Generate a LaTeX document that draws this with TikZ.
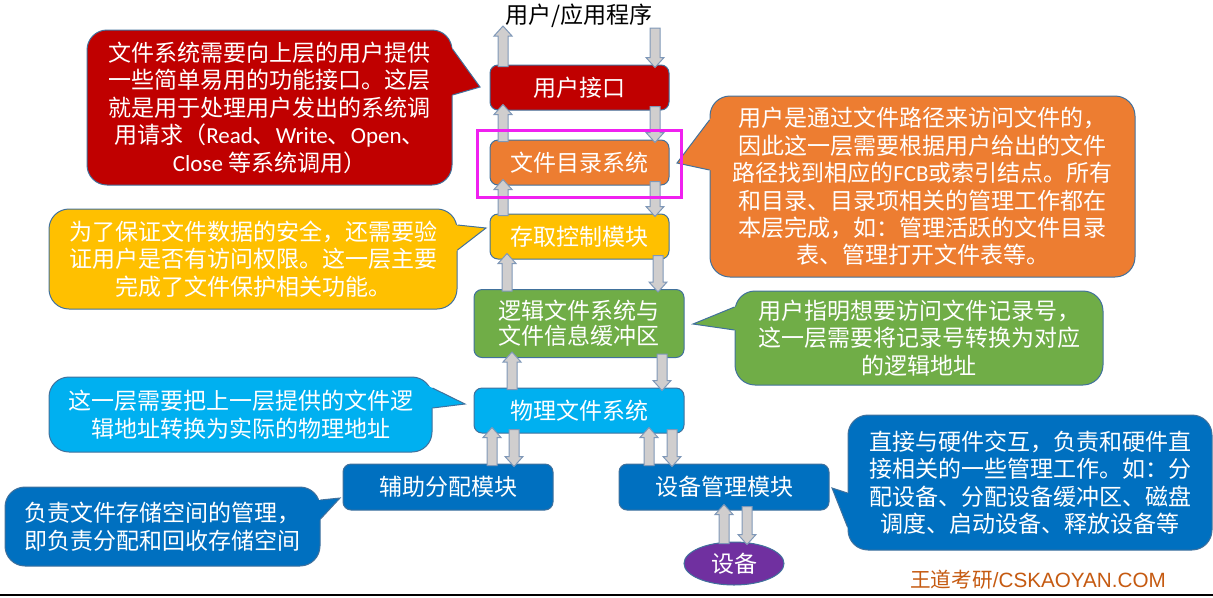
\documentclass[tikz,border=0pt]{standalone}
\usepackage{fontspec}
\setmainfont{Noto Sans CJK SC}
\newfontfamily\latf{Carlito}
\newfontfamily\arialf{Liberation Sans}
\usetikzlibrary{calc,shapes.geometric}

\definecolor{ifred}{HTML}{C00000}
\definecolor{iforange}{HTML}{ED7D31}
\definecolor{ifyellow}{HTML}{FFC000}
\definecolor{ifgreen}{HTML}{70AD47}
\definecolor{iflight}{HTML}{00B0F0}
\definecolor{ifdark}{HTML}{0070C0}
\definecolor{ifpurple}{HTML}{7030A0}
\definecolor{edgeblue}{HTML}{41719C}
\definecolor{arrgray}{HTML}{D0CECE}
\definecolor{arredge}{HTML}{7F98B8}
\definecolor{brandtxt}{HTML}{C55A11}
\definecolor{markbox}{HTML}{F020F0}

\newcommand\blkup[3]{%
  \draw[blkarrow] let \p1=(#1 -| #3,0), \p2=(#2 -| #3,0) in
    (\x1-3.75pt,\y1-1.5pt) -- (\x1-3.75pt,\y2-3pt) -- (\x1-6.75pt,\y2-3pt) -- (\x1,\y2+4.5pt)
    -- (\x1+6.75pt,\y2-3pt) -- (\x1+3.75pt,\y2-3pt) -- (\x1+3.75pt,\y1-1.5pt) -- cycle;}
\newcommand\blkdown[3]{%
  \draw[blkarrow] let \p1=(#1 -| #3,0), \p2=(#2 -| #3,0) in
    (\x1-3.75pt,\y1+3pt) -- (\x1-3.75pt,\y2+5.25pt) -- (\x1-6.75pt,\y2+5.25pt) -- (\x1,\y2-2.25pt)
    -- (\x1+6.75pt,\y2+5.25pt) -- (\x1+3.75pt,\y2+5.25pt) -- (\x1+3.75pt,\y1+3pt) -- cycle;}
\newcommand\callptr[4]{%
  \fill[#1] ($(#3)!1.25!(#2)$) -- (#3) -- ($(#3)!1.25!(#4)$) -- cycle;
  \draw[edgeline] (#2) -- (#3) -- (#4);}

\begin{document}
\begin{tikzpicture}[x=0.75pt,y=-0.75pt,
  edgeline/.style={draw=edgeblue, line width=0.75pt},
  layer/.style={edgeline, rounded corners=6pt, text=white, inner sep=0pt, align=center,
    font=\fontsize{17.25pt}{18.75pt}\selectfont},
  bubble/.style={edgeline, rounded corners=15pt, text=white, inner sep=0pt, align=center,
    font=\fontsize{17.25pt}{20.6pt}\selectfont},
  blkarrow/.style={fill=arrgray, draw=arredge, line width=0.75pt}]
\useasboundingbox (0,0) rectangle (1213,597);

\node[font=\fontsize{17.3pt}{19pt}\selectfont] (app) at (579,16) {用户/应用程序};
\coordinate (top) at (579,32);

\node[layer, fill=ifred, minimum width=134.25pt, minimum height=33.75pt] (ui) at (579.5,87.5) {用户接口};
\node[layer, fill=iforange, minimum width=134.25pt, minimum height=33.75pt] (dir) at (579.5,162.5) {文件目录系统};
\node[layer, fill=ifyellow, minimum width=134.25pt, minimum height=33.75pt] (acc) at (579.5,236.5) {存取控制模块};
\node[layer, fill=ifgreen, minimum width=157.5pt, minimum height=51pt] (lfs) at (579,323.5) {逻辑文件系统与\\文件信息缓冲区};
\node[layer, fill=iflight, minimum width=157.5pt, minimum height=33.75pt] (pfs) at (579,410.5) {物理文件系统};
\node[layer, fill=ifdark, minimum width=157.5pt, minimum height=34.5pt] (aux) at (448,487) {辅助分配模块};
\node[layer, fill=ifdark, minimum width=157.5pt, minimum height=34.5pt] (devm) at (724,487) {设备管理模块};
\node[layer, ellipse, fill=ifpurple, minimum width=75pt, minimum height=32.25pt] (dev) at (734,563.5) {设备};

\blkup{ui.north}{top}{503}
\blkdown{top}{ui.north}{655}
\blkup{dir.north}{ui.south}{503}
\blkdown{ui.south}{dir.north}{655}
\blkup{acc.north}{dir.south}{503}
\blkdown{dir.south}{acc.north}{655}
\blkup{lfs.north}{acc.south}{507}
\blkdown{acc.south}{lfs.north}{658}
\blkup{pfs.north}{lfs.south}{512}
\blkdown{lfs.south}{pfs.north}{662}
\blkup{aux.north}{pfs.south}{492}
\blkdown{pfs.south}{aux.north}{514}
\blkup{devm.north}{pfs.south}{649}
\blkdown{pfs.south}{devm.north}{672}
\blkup{dev.north}{devm.south}{724}
\blkdown{devm.south}{dev.north}{747}

\node[bubble, fill=ifred, minimum width=273.75pt, minimum height=116.25pt] (nred) at (269.5,107.5)
  {文件系统需要向上层的用户提供\\一些简单易用的功能接口。这层\\就是用于处理用户发出的系统调\\用请求（{\latf Read}、{\latf Write}、{\latf Open}、\\{\latf Close} 等系统调用）};
\coordinate (tred) at (480,87);
\callptr{ifred}{nred.east |- 0,49}{tred}{nred.east |- 0,95}

\node[bubble, fill=iforange, minimum width=318.75pt, minimum height=135.75pt] (norange) at (922.5,186.5)
  {用户是通过文件路径来访问文件的，\\因此这一层需要根据用户给出的文件\\路径找到相应的{\latf FCB}或索引结点。所有\\和目录、目录项相关的管理工作都在\\本层完成，如：管理活跃的文件目录\\表、管理打开文件表等。};
\coordinate (torange) at (677,163);
\callptr{iforange}{norange.west |- 0,120}{torange}{norange.west |- 0,170}

\node[bubble, fill=ifyellow, minimum width=306pt, minimum height=75pt] (nyellow) at (253,259)
  {为了保证文件数据的安全，还需要验\\证用户是否有访问权限。这一层主要\\完成了文件保护相关功能。};
\coordinate (tyellow) at (486,228);
\callptr{ifyellow}{nyellow.east |- 0,225}{tyellow}{nyellow.east |- 0,250}

\node[bubble, fill=ifgreen, minimum width=276pt, minimum height=70.5pt] (ngreen) at (919,338)
  {用户指明想要访问文件记录号，\\这一层需要将记录号转换为对应\\的逻辑地址};
\coordinate (tgreen) at (693,324);
\callptr{ifgreen}{ngreen.west |- 0,307}{tgreen}{ngreen.west |- 0,330}

\node[bubble, fill=iflight, minimum width=287.25pt, minimum height=56.25pt] (nlight) at (240.5,414.5)
  {这一层需要把上一层提供的文件逻\\辑地址转换为实际的物理地址};
\coordinate (tlight) at (465,404);
\callptr{iflight}{nlight.east |- 0,388}{tlight}{nlight.east |- 0,408}

\node[bubble, fill=ifdark, minimum width=236.25pt, minimum height=59.25pt] (naux) at (162.5,526.5)
  {负责文件存储空间的管理，\\即负责分配和回收存储空间};
\coordinate (taux) at (340,498);
\callptr{ifdark}{naux.east |- 0,500}{taux}{naux.east |- 0,519}

\node[bubble, fill=ifdark, minimum width=273pt, minimum height=101.25pt] (ndev) at (1030,482.5)
  {直接与硬件交互，负责和硬件直\\接相关的一些管理工作。如：分\\配设备、分配设备缓冲区、磁盘\\调度、启动设备、释放设备等};
\coordinate (tdev) at (832,488);
\callptr{ifdark}{ndev.west |- 0,493}{tdev}{ndev.west |- 0,527}

\draw[markbox, line width=2.25pt] (477,130) rectangle (681,197);

\node[text=brandtxt, font=\fontsize{15.5pt}{18pt}\selectfont] (brand) at (1038,580) {王道考研{\arialf /CSKAOYAN.COM}};
\draw[line width=1.2pt] (0,595) -- (1213,595);
\end{tikzpicture}
\end{document}
